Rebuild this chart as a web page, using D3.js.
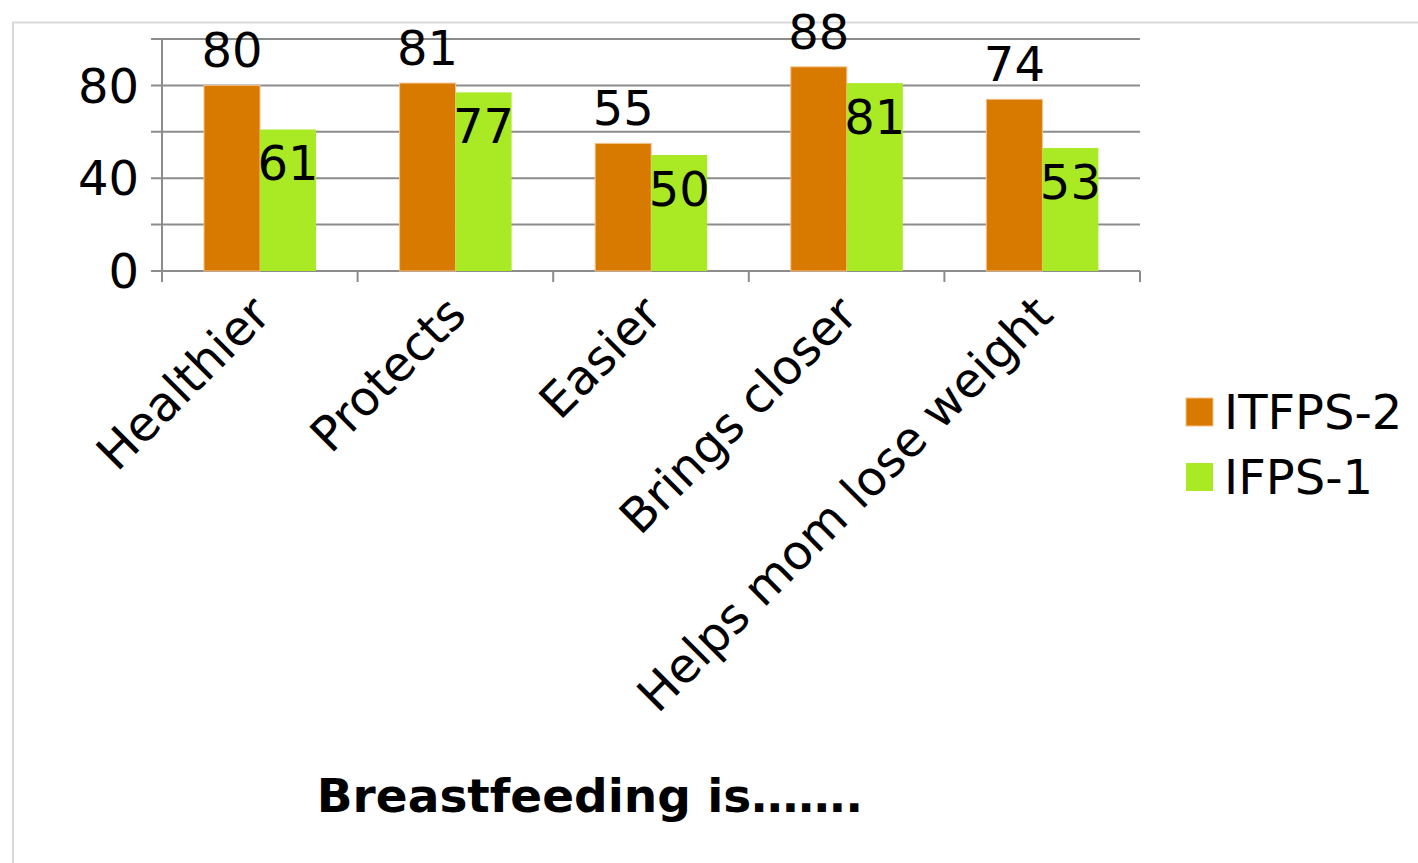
<!DOCTYPE html>
<html>
<head>
<meta charset="utf-8">
<script src="https://cdn.jsdelivr.net/npm/d3@7"></script>
<style>
  body { margin: 0; background: #fff; }
  text { font-family: "DejaVu Sans", sans-serif; fill: #000; }
</style>
</head>
<body>
<svg id="chart" width="1418" height="863"></svg>
<script>
var categories = ["Healthier", "Protects", "Easier", "Brings closer", "Helps mom lose weight"]
var series = ["ITFPS-2", "IFPS-1"]
var itfps2 = [80, 81, 55, 88, 74]
var ifps1 = [61, 77, 50, 81, 53]
var yTicks = [0, 20, 40, 60, 80, 100]
var yLabels = [0, 40, 80]

var orange = "#D87A00"
var green = "#AAEA25"

var colorScale = d3.scaleOrdinal().domain(series).range([orange, green])

var svg = d3.select("#chart")

// outer frame
svg.append("path")
  .attr("d", "M13,863 V22.5 H1418")
  .style("fill", "none")
  .style("stroke", "#d9d9d9")
  .style("stroke-width", 2)

var x = d3.scaleBand().domain(categories).range([162, 1140])
var sub = d3.scaleBand().domain(series).range([42, 154])
var y = d3.scaleLinear().domain([0, 100]).range([271, 39])

// gridlines + left ticks
svg.append("g").selectAll("line")
  .data(yTicks)
  .enter().append("line")
  .attr("x1", 151).attr("x2", 1140)
  .attr("y1", d => y(d)).attr("y2", d => y(d))
  .style("stroke", "#8c8c8c")
  .style("stroke-width", 2)

// y axis line
svg.append("line")
  .attr("x1", 162).attr("x2", 162)
  .attr("y1", y(100)).attr("y2", 282)
  .style("stroke", "#8c8c8c")
  .style("stroke-width", 2)

// x ticks at band edges
var edges = categories.map(c => x(c)).concat([x.range()[1]])
svg.append("g").selectAll("line")
  .data(edges)
  .enter().append("line")
  .attr("x1", d => d).attr("x2", d => d)
  .attr("y1", y(0)).attr("y2", 282)
  .style("stroke", "#8c8c8c")
  .style("stroke-width", 2)

svg.append("g").selectAll("text")
  .data(yLabels)
  .enter().append("text")
  .attr("x", 139)
  .attr("y", d => y(d))
  .attr("dy", "0.36em")
  .style("text-anchor", "end")
  .style("font-size", "48px")
  .text(d => d)

var rows = categories.map(function (c, i) {
  return { cat: c, values: [{ s: series[0], v: itfps2[i] }, { s: series[1], v: ifps1[i] }] }
})

var groups = svg.append("g").selectAll("g")
  .data(rows)
  .enter().append("g")
  .attr("transform", d => "translate(" + x(d.cat) + ",0)")

groups.selectAll("rect")
  .data(d => d.values)
  .enter().append("rect")
  .attr("x", d => sub(d.s))
  .attr("y", d => y(d.v))
  .attr("width", sub.bandwidth())
  .attr("height", d => y(0) - y(d.v))
  .style("fill", d => colorScale(d.s))
  .style("stroke", d => d.s == series[0] ? "#f6c089" : "none")
  .style("stroke-width", 1)

groups.selectAll("text")
  .data(d => d.values)
  .enter().append("text")
  .attr("x", d => sub(d.s) + sub.bandwidth() / 2)
  .attr("y", d => d.s == series[0] ? y(d.v) - 18 : y(d.v) + 51)
  .style("text-anchor", "middle")
  .style("font-size", "48px")
  .text(d => d.v)

// category labels, rotated
svg.append("g").selectAll("text")
  .data(categories)
  .enter().append("text")
  .attr("transform", d => "translate(" + (x(d) + x.bandwidth() / 2 + 13) + ",317) rotate(-45)")
  .style("text-anchor", "end")
  .style("font-size", "48px")
  .text(d => d)

// legend
var legend = svg.append("g").selectAll("g")
  .data(series)
  .enter().append("g")
  .attr("transform", (d, i) => "translate(1186," + (398 + i * 65) + ")")

legend.append("rect")
  .attr("width", 27).attr("height", 28)
  .style("fill", d => colorScale(d))
  .style("stroke", d => d == series[0] ? "#f6c089" : "none")

legend.append("text")
  .attr("x", 38).attr("y", 31)
  .style("font-size", "48px")
  .text(d => d)

svg.append("text")
  .attr("x", 590).attr("y", 812)
  .style("text-anchor", "middle")
  .style("font-size", "47px")
  .style("font-weight", "bold")
  .text("Breastfeeding is…….")
</script>
</body>
</html>
